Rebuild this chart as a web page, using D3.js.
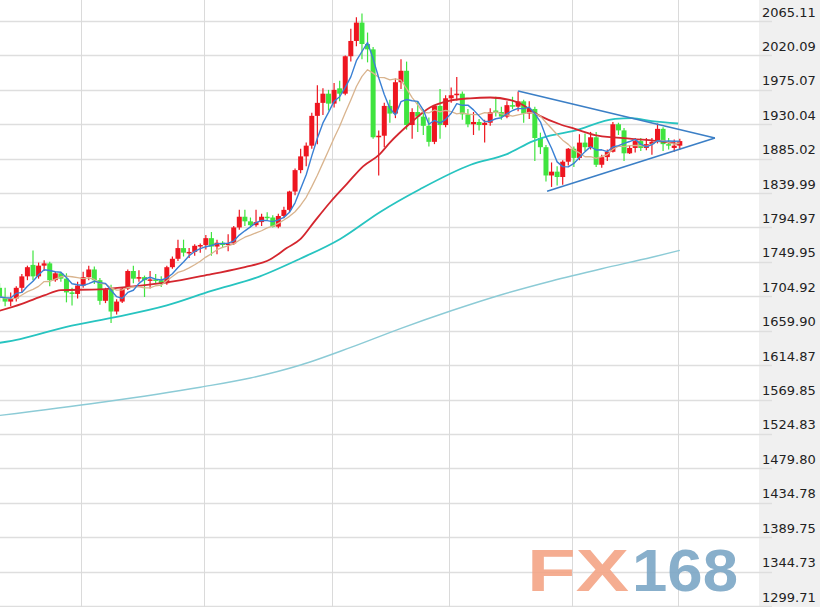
<!DOCTYPE html>
<html><head><meta charset="utf-8">
<script src="https://cdn.jsdelivr.net/npm/d3@7/dist/d3.min.js"></script>
<style>html,body{margin:0;padding:0;background:#fff;overflow:hidden}</style>
</head><body>
<svg id="chart" width="820" height="607"></svg>
<script>
// ---- categories (trading days, 2020) ----
const dates = [
"05-08","05-11","05-12","05-13","05-14","05-15","05-18","05-19","05-20","05-21","05-22","05-25","05-26","05-27","05-28","05-29",
"06-01","06-02","06-03","06-04","06-05","06-08","06-09","06-10","06-11","06-12","06-15","06-16","06-17","06-18","06-19","06-22","06-23","06-24","06-25","06-26","06-29","06-30",
"07-01","07-02","07-03","07-06","07-07","07-08","07-09","07-10","07-13","07-14","07-15","07-16","07-17","07-20","07-21","07-22","07-23","07-24","07-27","07-28","07-29","07-30","07-31",
"08-03","08-04","08-05","08-06","08-07","08-10","08-11","08-12","08-13","08-14","08-17","08-18","08-19","08-20","08-21","08-24","08-25","08-26","08-27","08-28","08-31",
"09-01","09-02","09-03","09-04","09-07","09-08","09-09","09-10","09-11","09-14","09-15","09-16","09-17","09-18","09-21","09-22","09-23","09-24","09-25","09-28","09-29","09-30",
"10-01","10-02","10-05","10-06","10-07","10-08","10-09","10-12","10-13","10-14","10-15","10-16","10-19","10-20","10-21","10-22","10-23","10-26","10-27"];

// ---- OHLC series ----
const open = [1716,1703,1698,1702,1716,1731,1746,1731,1745,1748,
1726,1735,1728,1710,1708,1719,1730,1740,1726,1699,
1714,1685,1698,1715,1738,1728,1730,1726,1727,1726,
1722,1743,1754,1768,1762,1763,1771,1772,1781,1770,
1775,1772,1774,1795,1809,1803,1798,1802,1809,1808,
1796,1810,1818,1842,1870,1888,1902,1941,1958,1970,
1957,1977,1970,2019,2039,2063,2035,2028,1913,1915,
1954,1944,1985,2000,1929,1946,1940,1928,1907,1954,
1929,1964,1968,1970,1943,1930,1933,1929,1932,1948,
1946,1940,1955,1953,1960,1944,1950,1912,1900,1863,
1868,1861,1881,1898,1886,1906,1900,1913,1877,1887,
1894,1930,1922,1892,1899,1908,1899,1904,1907,1924,
1904,1899,1902];
const high = [1722,1716,1710,1718,1734,1745,1765,1749,1752,1750,
1737,1737,1735,1716,1724,1737,1745,1744,1729,1716,
1720,1701,1717,1740,1745,1739,1732,1738,1734,1731,
1745,1757,1779,1779,1768,1773,1774,1785,1789,1779,
1777,1786,1797,1818,1818,1808,1818,1813,1815,1811,
1813,1822,1843,1872,1898,1906,1945,1981,1977,1975,
1984,1987,2020,2055,2070,2075,2050,2031,1922,1958,
1962,1990,2015,2012,1951,1960,1950,1939,1955,1976,
1968,1978,1992,1973,1950,1946,1937,1936,1951,1966,
1953,1960,1966,1973,1962,1960,1953,1919,1903,1880,
1875,1883,1899,1901,1917,1918,1920,1920,1890,1897,
1933,1932,1925,1902,1912,1912,1912,1912,1931,1926,
1912,1910,1911];
const low = [1698,1692,1692,1698,1710,1726,1726,1728,1738,1718,
1724,1724,1697,1693,1702,1716,1726,1721,1694,1696,
1670,1681,1696,1713,1722,1724,1704,1715,1721,1717,
1720,1741,1751,1757,1755,1758,1762,1766,1758,1760,
1768,1764,1772,1792,1797,1795,1796,1797,1804,1795,
1794,1807,1815,1837,1866,1875,1898,1904,1942,1948,
1952,1960,1968,2012,2032,2015,2011,1911,1863,1900,
1932,1938,1976,1923,1911,1920,1916,1901,1904,1911,
1926,1958,1961,1936,1926,1916,1922,1906,1928,1940,
1936,1938,1950,1947,1932,1937,1882,1891,1855,1848,
1850,1851,1876,1874,1883,1895,1897,1874,1873,1882,
1893,1916,1882,1891,1893,1895,1896,1890,1905,1895,
1897,1894,1897];
const close = [1703,1698,1702,1716,1731,1743,1731,1745,1748,1726,
1735,1728,1710,1708,1719,1730,1740,1726,1699,1714,
1685,1698,1715,1738,1728,1730,1726,1727,1726,1722,
1743,1754,1768,1762,1763,1771,1772,1781,1770,1775,
1772,1774,1795,1809,1803,1798,1802,1809,1808,1796,
1810,1818,1842,1870,1888,1902,1941,1958,1970,1957,
1975,1970,2019,2039,2063,2035,2028,1913,1915,1954,
1944,1985,2000,1929,1946,1940,1928,1907,1954,1929,
1964,1968,1970,1943,1930,1933,1929,1932,1946,1946,
1940,1955,1953,1960,1944,1950,1912,1900,1863,1868,
1861,1881,1898,1886,1906,1900,1913,1877,1887,1894,
1930,1922,1892,1899,1908,1899,1904,1907,1924,1904,
1902,1902,1908];
// closes of the 9 sessions before the first candle (for MA5 / MA10)
const priorCloses = [1713,1708,1714,1686,1700,1702,1705,1685,1725];

// ---- longer moving averages: [candle index, value] ----
const ma30Points = [[0,1686],[4,1695],[8,1706],[11,1713],[18,1714],[24,1718],[30,1723],[38,1734],[44,1743],[48.5,1753],[51.5,1768],[54,1780],[56.5,1803],[59.3,1828],[62.3,1852],[65.2,1875],[68.2,1891],[70,1906],[73.6,1931],[77.2,1952],[80.8,1961],[84.4,1964],[88,1965],[92.8,1959],[96.9,1941],[100.5,1930],[103.2,1924],[107.3,1915],[113.4,1911],[119.3,1907],[122,1904]];
const ma60Points = [[0,1644],[3.7,1649],[12,1665],[21,1678],[30,1693],[38,1712],[46.7,1731],[53.9,1754],[61.1,1780],[68.2,1815],[75.4,1845],[84.5,1877],[91,1891],[95.7,1908],[98.7,1915],[102.8,1921],[110.4,1937],[113.4,1938],[117,1934],[121.7,1931]];
const ma250Points = [[0,1549],[18,1566],[36,1586],[45,1598],[54,1615],[63,1638],[72,1663],[81,1686],[90,1707],[99,1725],[108,1741],[117,1756],[122,1765]];

// ---- triangle trend lines: [candle index, price] ----
const trendUpper = [[93,1973.5],[128.3,1912]];
const trendLower = [[98.2,1842.5],[128.3,1912]];

// ---- axis tick labels ----
const tickLabels = ["2065.11","2020.09","1975.07","1930.04","1885.02","1839.99","1794.97","1749.95","1704.92","1659.90","1614.87","1569.85","1524.83","1479.80","1434.78","1389.75","1344.73","1299.71"];

// ================= drawing =================
const W = 820, H = 607;
const svg = d3.select("#chart");
const n = close.length;
const x = d3.scaleLinear().domain([0, n - 1]).range([-0.46, 679.8]);
const y = d3.scaleLinear().domain([1299.71, 2065.11]).range([606, 21]);

svg.append("rect").attr("width", W).attr("height", H).attr("fill", "#fff");
// right axis panel
svg.append("rect").attr("x", 759).attr("y", 0).attr("width", W - 759).attr("height", H).attr("fill", "#f0f0f0");

// horizontal grid
const tickVals = tickLabels.map(Number);
svg.append("g").selectAll("line").data(tickVals).join("line")
  .attr("x1", 0).attr("x2", 772)
  .attr("y1", d => Math.round(y(d)) + 0.5).attr("y2", d => Math.round(y(d)) + 0.5)
  .attr("stroke", "#dedede").attr("stroke-width", 1.5);

// vertical grid at month ends and at the last session
const vIdx = d3.range(n).filter(i => i === n - 1 || dates[i].slice(0, 2) !== dates[i + 1].slice(0, 2));
svg.append("g").selectAll("line").data(vIdx).join("line")
  .attr("x1", i => Math.round(x(i)) - 1.5).attr("x2", i => Math.round(x(i)) - 1.5)
  .attr("y1", 0).attr("y2", H)
  .attr("stroke", "#dadada").attr("stroke-width", 1);

// axis labels
svg.append("g").selectAll("text").data(tickLabels).join("text")
  .attr("x", 762).attr("y", d => y(+d) - 4.5)
  .attr("font-family", "DejaVu Sans, Verdana, sans-serif").attr("font-size", 13)
  .attr("fill", "#222").text(d => d);

// watermark
const wm = svg.append("g").attr("opacity", 0.9);
wm.append("text").attr("x", 527).attr("y", 591).attr("textLength", 102).attr("lengthAdjust", "spacingAndGlyphs")
  .attr("font-family", "Liberation Sans, Arial, sans-serif").attr("font-weight", "bold").attr("font-size", 60)
  .attr("fill", "#f4a586").text("FX");
wm.append("text").attr("x", 632).attr("y", 591).attr("textLength", 106).attr("lengthAdjust", "spacingAndGlyphs")
  .attr("font-family", "Liberation Sans, Arial, sans-serif").attr("font-weight", "bold").attr("font-size", 60)
  .attr("fill", "#7ca7c6").text("168");

// candles
const UP = "#ee1620", DOWN = "#3fe43f";
const candles = d3.range(n).map(i => ({ i, o: open[i], h: high[i], l: low[i], c: close[i] }));
const bw = 5;
const cg = svg.append("g");
cg.selectAll("line").data(candles).join("line")
  .attr("x1", d => x(d.i)).attr("x2", d => x(d.i))
  .attr("y1", d => y(d.h)).attr("y2", d => y(d.l))
  .attr("stroke", d => d.c >= d.o ? UP : DOWN).attr("stroke-width", 1.2);
cg.selectAll("rect").data(candles).join("rect")
  .attr("x", d => x(d.i) - bw / 2).attr("width", bw)
  .attr("y", d => y(Math.max(d.o, d.c)))
  .attr("height", d => Math.max(1.5, Math.abs(y(d.o) - y(d.c))))
  .attr("fill", d => d.c >= d.o ? UP : DOWN);

// moving averages
const allC = priorCloses.concat(close);
function sma(p) {
  return close.map((c, i) => {
    const j = i + priorCloses.length;
    return [i, d3.mean(allC.slice(j - p + 1, j + 1))];
  });
}
const lineLin = d3.line().x(d => x(d[0])).y(d => y(d[1]));
const lineSmooth = d3.line().x(d => x(d[0])).y(d => y(d[1])).curve(d3.curveMonotoneX);

const ml = svg.append("g").attr("fill", "none").attr("stroke-linejoin", "round");
ml.append("path").attr("d", lineSmooth(ma250Points)).attr("stroke", "#8ccbd6").attr("stroke-width", 1.4);
ml.append("path").attr("d", lineSmooth(ma60Points)).attr("stroke", "#27c4c0").attr("stroke-width", 1.8);
ml.append("path").attr("d", lineSmooth(ma30Points)).attr("stroke", "#d4262e").attr("stroke-width", 1.8);
ml.append("path").attr("d", lineLin(sma(10))).attr("stroke", "#d9b48e").attr("stroke-width", 1.3);
ml.append("path").attr("d", lineLin(sma(5))).attr("stroke", "#3a80d4").attr("stroke-width", 1.4);

// triangle
const tg = svg.append("g").attr("fill", "none").attr("stroke", "#3b7fc6").attr("stroke-width", 1.6);
tg.append("path").attr("d", lineLin(trendUpper));
tg.append("path").attr("d", lineLin(trendLower));
</script>
</body></html>
